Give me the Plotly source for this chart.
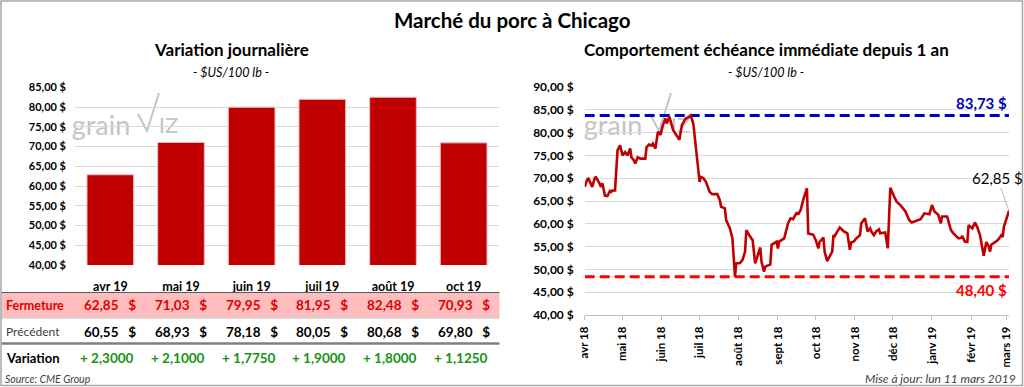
import plotly.graph_objects as go

W, H = 1024, 387
FONT = "Lato"


def px(x):
    return x / W


def py(y):
    return 1 - y / H


# ---------------- data : left panel (daily variation) ----------------
contracts = ["avr 19", "mai 19", "juin 19", "juil 19", "août 19", "oct 19"]
fermeture = [62.85, 71.03, 79.95, 81.95, 82.48, 70.93]
precedent = [60.55, 68.93, 78.18, 80.05, 80.68, 69.80]
variation = [2.3000, 2.1000, 1.7750, 1.9000, 1.8000, 1.1250]

left_tickvals = [40, 45, 50, 55, 60, 65, 70, 75, 80, 85]
left_ticktext = ["40,00 $", "45,00 $", "50,00 $", "55,00 $", "60,00 $",
                 "65,00 $", "70,00 $", "75,00 $", "80,00 $", "85,00 $"]

# ---------------- data : right panel (nearby contract, 1 year) ----------------
dates = [
    "2018-04-09", "2018-04-11", "2018-04-12", "2018-04-14", "2018-04-15", "2018-04-17",
    "2018-04-18", "2018-04-20", "2018-04-22", "2018-04-23", "2018-04-25", "2018-04-27",
    "2018-04-29", "2018-04-30", "2018-05-01", "2018-05-03", "2018-05-05", "2018-05-07",
    "2018-05-08", "2018-05-09", "2018-05-11", "2018-05-13", "2018-05-15", "2018-05-16",
    "2018-05-18", "2018-05-19", "2018-05-21", "2018-05-23", "2018-05-27", "2018-05-28",
    "2018-05-30", "2018-06-01", "2018-06-02", "2018-06-04", "2018-06-06", "2018-06-08",
    "2018-06-10", "2018-06-12", "2018-06-13", "2018-06-15", "2018-06-18", "2018-06-20",
    "2018-06-23", "2018-06-25", "2018-06-28", "2018-06-29", "2018-07-02", "2018-07-04",
    "2018-07-09", "2018-07-10", "2018-07-12", "2018-07-14", "2018-07-17", "2018-07-19",
    "2018-07-23", "2018-07-25", "2018-07-26", "2018-07-29", "2018-07-30", "2018-08-02",
    "2018-08-04", "2018-08-06", "2018-08-07", "2018-08-10", "2018-08-12", "2018-08-14",
    "2018-08-15", "2018-08-18", "2018-08-20", "2018-08-22", "2018-08-24", "2018-08-26",
    "2018-08-27", "2018-08-29", "2018-08-30", "2018-09-03", "2018-09-04", "2018-09-08",
    "2018-09-09", "2018-09-10", "2018-09-14", "2018-09-17", "2018-09-19", "2018-09-21",
    "2018-09-24", "2018-09-25", "2018-09-27", "2018-09-29", "2018-10-02", "2018-10-03",
    "2018-10-07", "2018-10-09", "2018-10-11", "2018-10-12", "2018-10-15", "2018-10-16",
    "2018-10-18", "2018-10-20", "2018-10-22", "2018-10-23", "2018-10-24", "2018-10-26",
    "2018-10-28", "2018-10-31", "2018-11-03", "2018-11-05", "2018-11-06", "2018-11-08",
    "2018-11-10", "2018-11-13", "2018-11-14", "2018-11-17", "2018-11-19", "2018-11-21",
    "2018-11-22", "2018-11-24", "2018-11-26", "2018-11-28", "2018-11-29", "2018-12-03",
    "2018-12-05", "2018-12-07", "2018-12-08", "2018-12-10", "2018-12-12", "2018-12-15",
    "2018-12-19", "2018-12-22", "2018-12-24", "2018-12-28", "2018-12-31", "2019-01-03",
    "2019-01-07", "2019-01-09", "2019-01-11", "2019-01-14", "2019-01-16", "2019-01-17",
    "2019-01-21", "2019-01-24", "2019-01-26", "2019-01-30", "2019-02-01", "2019-02-02",
    "2019-02-04", "2019-02-06", "2019-02-07", "2019-02-10", "2019-02-12", "2019-02-14",
    "2019-02-16", "2019-02-19", "2019-02-21", "2019-02-23", "2019-02-24", "2019-02-25",
    "2019-03-02", "2019-03-05", "2019-03-06", "2019-03-07", "2019-03-09", "2019-03-11",
]
prices = [
    68.1, 69.7, 69.9, 68.8, 68.1, 70.1,
    70.2, 69.2, 68.1, 68.9, 66.2, 66.1,
    67.2, 67.0, 67.3, 67.3, 76.1, 77.2,
    75.7, 75.0, 75.7, 75.0, 76.5, 74.6,
    73.9, 73.2, 74.6, 74.3, 74.3, 76.8,
    77.4, 77.2, 77.6, 76.5, 80.2, 79.5,
    81.7, 83.1, 82.0, 83.5, 80.6, 79.8,
    78.4, 81.7, 83.1, 83.2, 83.73, 82.0,
    69.2, 70.3, 70.0, 69.2, 67.0, 66.5,
    66.5, 65.2, 63.75, 63.4, 60.8, 59.0,
    56.8, 48.40, 51.3, 51.4, 52.1, 53.9,
    58.6, 57.2, 56.4, 51.3, 53.2, 54.8,
    51.7, 49.5, 50.6, 51.1, 55.4, 56.1,
    54.6, 56.1, 56.8, 60.1, 61.2, 61.0,
    62.5, 62.0, 63.0, 65.2, 67.8, 57.9,
    57.6, 56.4, 54.6, 56.0, 57.0, 53.9,
    51.8, 52.8, 53.9, 57.5, 57.3, 58.3,
    59.2, 58.4, 57.9, 54.3, 55.9, 56.1,
    56.8, 57.5, 60.1, 61.2, 58.3, 59.0,
    58.3, 57.5, 58.4, 58.8, 57.9, 58.1,
    54.6, 67.9, 67.2, 66.0, 64.85, 64.1,
    62.7, 60.8, 60.3, 60.8, 61.0, 62.3,
    62.1, 64.1, 62.7, 62.0, 60.1, 61.6,
    61.6, 58.6, 57.9, 56.8, 56.9, 57.3,
    56.1, 56.0, 59.7, 59.0, 60.3, 59.2,
    57.6, 53.0, 56.0, 55.0, 53.9, 55.4,
    56.4, 57.5, 57.1, 59.4, 61.2, 62.85,
]
high_1y = 83.73
low_1y = 48.40

right_tickvals = [40, 45, 50, 55, 60, 65, 70, 75, 80, 85, 90]
right_ticktext = ["40,00 $", "45,00 $", "50,00 $", "55,00 $", "60,00 $", "65,00 $",
                  "70,00 $", "75,00 $", "80,00 $", "85,00 $", "90,00 $"]
month_ticks = ["2018-04-09", "2018-05-09", "2018-06-09", "2018-07-09", "2018-08-09",
               "2018-09-09", "2018-10-09", "2018-11-09", "2018-12-09", "2019-01-09",
               "2019-02-09", "2019-03-09"]
month_labels = ["avr 18", "mai 18", "juin 18", "juil 18", "août 18", "sept 18",
                "oct 18", "nov 18", "déc 18", "janv 19", "févr 19", "mars 19"]


def fr(v, nd=2):
    return f"{v:.{nd}f}".replace(".", ",")


NB = "\u00a0"
RED = "#C00000"
GRID = "#D9D9D9"
WM = "#C4C4C4"

fig = go.Figure()

# ---------- left bar chart ----------
fig.add_trace(go.Bar(
    x=contracts, y=fermeture, xaxis="x", yaxis="y",
    marker=dict(color=RED, line=dict(color="#F2B8B8", width=1)),
    hoverinfo="x+y", showlegend=False,
))

# ---------- right line chart ----------
fig.add_trace(go.Scatter(
    x=[dates[0], dates[-1]], y=[high_1y, high_1y], xaxis="x2", yaxis="y2",
    mode="lines", line=dict(color="#0000C0", width=3, dash="10px,5px"),
    hoverinfo="skip", showlegend=False,
))
fig.add_trace(go.Scatter(
    x=[dates[0], dates[-1]], y=[low_1y, low_1y], xaxis="x2", yaxis="y2",
    mode="lines", line=dict(color="#FF0000", width=3, dash="10px,5px"),
    hoverinfo="skip", showlegend=False,
))
fig.add_trace(go.Scatter(
    x=dates, y=prices, xaxis="x2", yaxis="y2", mode="lines",
    line=dict(color=RED, width=2.6), showlegend=False,
))

ann = []
shapes = []


def text(t, x, y, size, color="#000", xanchor="center", weight="normal", style="normal",
         xref="paper", xshift=0):
    ann.append(dict(text=t, x=x if xref != "paper" else px(x), y=py(y), xref=xref, yref="paper",
                    xanchor=xanchor, yanchor="middle", xshift=xshift, showarrow=False,
                    font=dict(family=FONT, size=size, color=color, weight=weight, style=style)))


# titles
text("Marché du porc à Chicago", 512, 20, 20.5, weight="bold")
text("Variation journalière", 231, 50, 17, weight="bold")
text("- $US/100 lb -", 231, 72, 12.5, style="italic")
text("Comportement échéance immédiate depuis 1 an", 766, 50, 17, weight="bold")
text("- $US/100 lb -", 766, 72, 12.5, style="italic")

# table
shapes.append(dict(type="rect", xref="paper", yref="paper", x0=px(1.5), x1=px(499.5),
                   y0=py(317.5), y1=py(293), fillcolor="#FFBDBD", line=dict(width=0), layer="below"))
shapes.append(dict(type="line", xref="paper", yref="paper", x0=px(1.5), x1=px(499.5),
                   y0=py(292.5), y1=py(292.5), line=dict(color="#595959", width=1.2)))
shapes.append(dict(type="line", xref="paper", yref="paper", x0=px(1.5), x1=px(499.5),
                   y0=py(318), y1=py(318), line=dict(color="#BFBFBF", width=1)))
shapes.append(dict(type="line", xref="paper", yref="paper", x0=px(1.5), x1=px(499.5),
                   y0=py(343.5), y1=py(343.5), line=dict(color="#7F7F7F", width=2.5)))

text("Fermeture", 4, 305, 12.5, color="#E00000", xanchor="left", weight="bold")
text("Précédent", 4, 331.5, 12, color="#404040", xanchor="left")
text("Variation", 4, 357.5, 13, xanchor="left", weight="bold")
text("Source: CME Group", 3, 379, 10.5, color="#404040", xanchor="left", style="italic")
for c, f, p, v in zip(contracts, fermeture, precedent, variation):
    text(f"{fr(f)}{NB}{NB}{NB}$", c, 305, 13.5, color="#E00000", weight="bold", xref="x")
    text(f"{fr(p)}{NB}{NB}{NB}$", c, 331.5, 13.5, weight="bold", xref="x")
    text(f"+ {fr(v, 4)}", c, 357.5, 13.5, color="#149414", weight="bold", xref="x", xshift=-3)

# right chart labels
ann.append(dict(text=f"{fr(high_1y)} $", x=dates[-1], y=high_1y, xref="x2", yref="y2",
                xanchor="right", yanchor="bottom", yshift=2, showarrow=False,
                font=dict(family=FONT, size=15, color="#0000C0", weight="bold")))
ann.append(dict(text=f"{fr(low_1y)} $", x=dates[-1], y=low_1y, xref="x2", yref="y2",
                xanchor="right", yanchor="top", yshift=-2, showarrow=False,
                font=dict(family=FONT, size=15, color="#FF0000", weight="bold")))
ann.append(dict(text=f"{fr(prices[-1])} $", x=dates[-1], y=prices[-1], xref="x2", yref="y2",
                ax=-12, ay=-33, xanchor="center", yanchor="middle",
                showarrow=True, arrowhead=0, arrowwidth=0.8, arrowcolor="#A6A6A6",
                font=dict(family=FONT, size=15, color="#000")))
text("Mise à jour: lun 11 mars 2019", 1018, 378, 12, color="#404040", xanchor="right", style="italic")

# watermark logos (below traces)
for ox in (0, 512):
    shapes.append(dict(type="rect", xref="paper", yref="paper", x0=px(69 + ox), x1=px(133 + ox),
                       y0=py(141), y1=py(107), line=dict(width=0), layer="below",
                       label=dict(text="grain", textposition="middle center",
                                  font=dict(family=FONT, size=27, color=WM))))
    shapes.append(dict(type="path", xref="paper", yref="paper", layer="below",
                       path=f"M {px(138+ox)},{py(114)} L {px(147+ox)},{py(131)} L {px(159+ox)},{py(93)}",
                       line=dict(color=WM, width=2)))
    shapes.append(dict(type="rect", xref="paper", yref="paper", x0=px(159 + ox), x1=px(178 + ox),
                       y0=py(140), y1=py(108), line=dict(width=0), layer="below",
                       label=dict(text="IZ", textposition="middle center",
                                  font=dict(family=FONT, size=22, color=WM))))

# outer frame
shapes.append(dict(type="rect", xref="paper", yref="paper", x0=px(1), x1=px(1022.5),
                   y0=py(385.5), y1=py(1), line=dict(color="#A6A6A6", width=1.5)))

axis_font = dict(family=FONT, size=11, color="#000", weight="bold")

fig.update_layout(
    width=W, height=H, autosize=False,
    margin=dict(l=0, r=0, t=0, b=0, pad=0),
    paper_bgcolor="white", plot_bgcolor="white",
    bargap=0.34, showlegend=False,
    annotations=ann, shapes=shapes,
    xaxis=dict(domain=[px(75), px(499)], type="category", range=[-0.5, 5.5],
               showgrid=False, showline=False, zeroline=False, ticks="", automargin=False,
               tickfont=dict(family=FONT, size=12.5, color="#000", weight="bold"),
               ticklabelstandoff=12, anchor="y", fixedrange=True),
    yaxis=dict(domain=[py(265), py(87.3)], range=[40, 85], tickvals=left_tickvals,
               ticktext=left_ticktext, showgrid=True, gridcolor=GRID, gridwidth=1,
               zeroline=False, showline=False, ticks="", tickfont=axis_font, automargin=False,
               ticklabelstandoff=8, anchor="x", fixedrange=True),
    xaxis2=dict(domain=[px(584.7), px(1009)], type="date", range=[dates[0], dates[-1]],
                tickvals=month_ticks, ticktext=month_labels, tickangle=-90, automargin=False,
                showgrid=False, showline=True, linecolor="#BFBFBF", linewidth=1,
                ticks="outside", ticklen=4, tickcolor="#BFBFBF",
                tickfont=dict(family=FONT, size=11.5, color="#000", weight="bold"),
                ticklabelstandoff=2, anchor="y2", fixedrange=True),
    yaxis2=dict(domain=[py(315), py(87)], range=[40, 90], tickvals=right_tickvals,
                ticktext=right_ticktext, showgrid=True, gridcolor=GRID, gridwidth=1, automargin=False,
                zeroline=False, showline=False, ticks="",
                tickfont=dict(family=FONT, size=12, color="#000", weight="bold"),
                ticklabelstandoff=10, anchor="x2", fixedrange=True),
)

fig.write_html("out.html", config={"displayModeBar": False},
               post_script="document.body.style.margin='0px';document.body.style.overflow='hidden';")
